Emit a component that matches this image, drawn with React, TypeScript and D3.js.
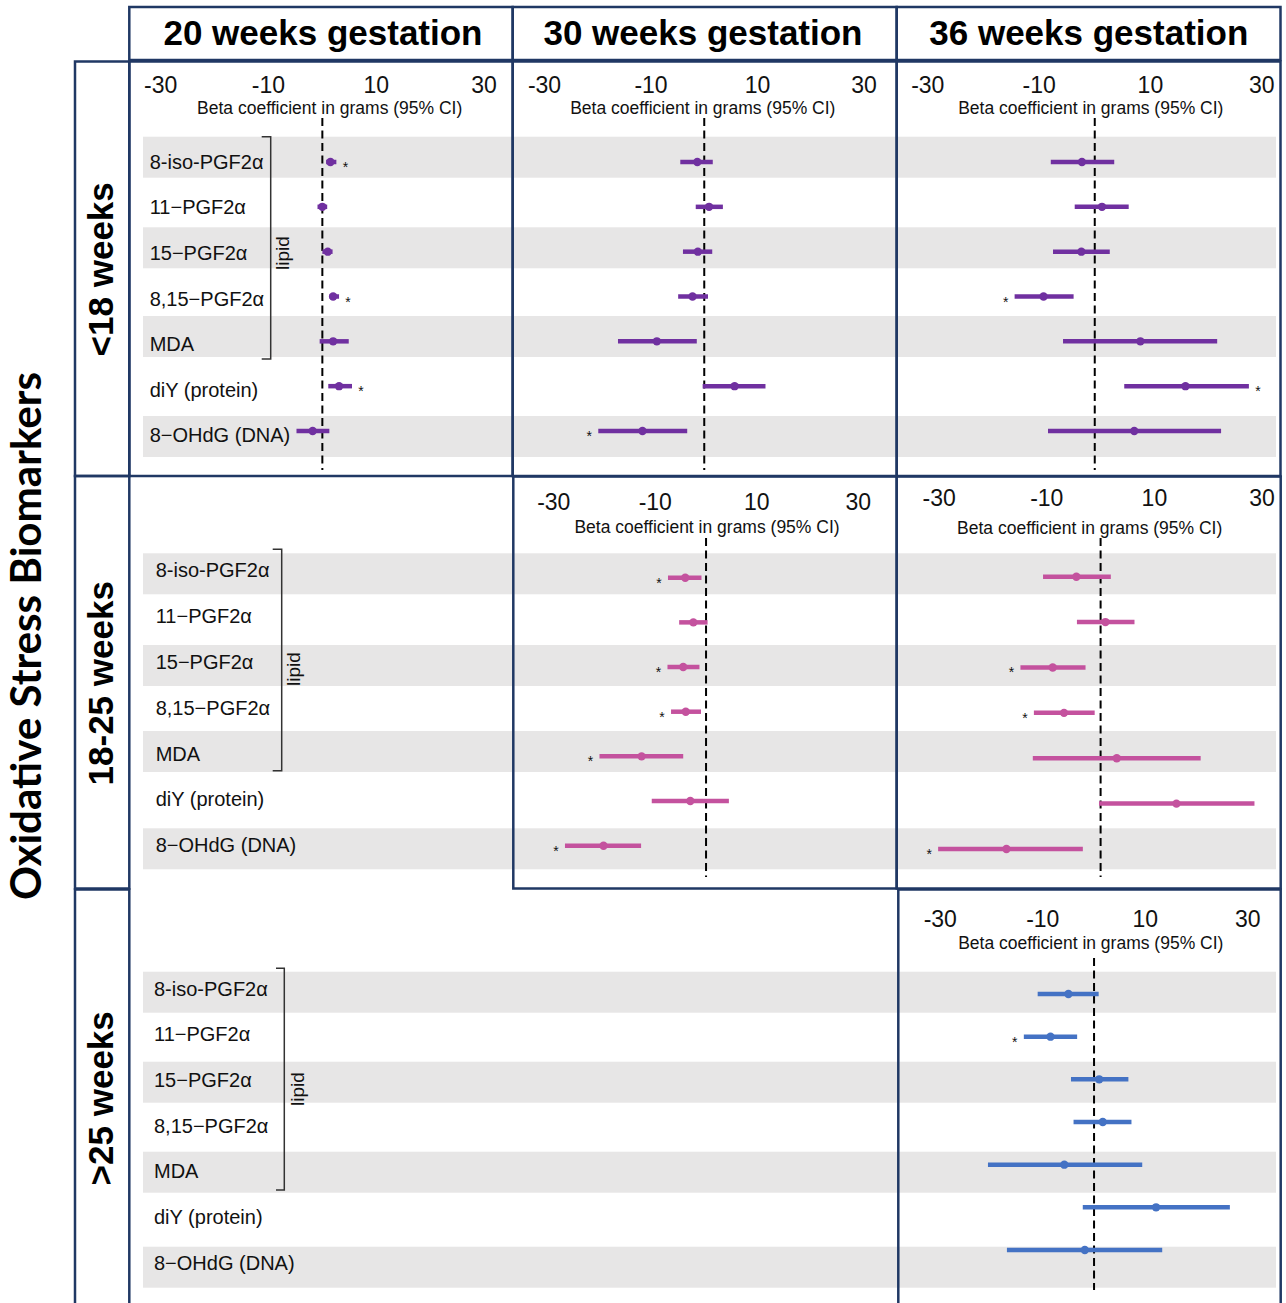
import React from "react";
import * as d3 from "d3";

// ---------- data ----------
const biomarkers = [
  "8-iso-PGF2α",
  "11−PGF2α",
  "15−PGF2α",
  "8,15−PGF2α",
  "MDA",
  "diY (protein)",
  "8−OHdG (DNA)",
];
const tickValues = [-30, -10, 10, 30];
const gestationLabels = ["20 weeks gestation", "30 weeks gestation", "36 weeks gestation"];
const windowLabels = ["<18 weeks", "18-25 weeks", ">25 weeks"];
const mainTitle = "Oxidative Stress Biomarkers";
const axisTitle = "Beta coefficient in grams (95% CI)";
const groupLabel = "lipid";

// <18 weeks exposure
const est_lt18_w20 = [1.5, 0.0, 1.0, 2.0, 2.0, 3.1, -1.8];
const lo_lt18_w20 = [0.7, -0.9, 0.0, 1.3, -0.5, 1.1, -4.8];
const hi_lt18_w20 = [2.6, 0.9, 1.9, 3.1, 4.9, 5.5, 1.3];
const sig_lt18_w20 = [1, 0, 0, 1, 0, 1, 0];

const est_lt18_w30 = [-1.3, 0.9, -1.2, -2.2, -8.9, 5.7, -11.6];
const lo_lt18_w30 = [-4.5, -1.6, -4.0, -4.9, -16.2, -0.3, -19.9];
const hi_lt18_w30 = [1.6, 3.5, 1.5, 0.7, -1.4, 11.5, -3.2];
const sig_lt18_w30 = [0, 0, 0, 0, 0, 0, 1];

const est_lt18_w36 = [-2.3, 1.3, -2.4, -9.2, 8.2, 16.3, 7.1];
const lo_lt18_w36 = [-7.9, -3.6, -7.5, -14.4, -5.7, 5.3, -8.4];
const hi_lt18_w36 = [3.5, 6.1, 2.7, -3.8, 22.0, 27.7, 22.7];
const sig_lt18_w36 = [0, 0, 0, 1, 0, 1, 0];

// 18-25 weeks exposure
const est_mid_w30 = [-4.1, -2.5, -4.5, -4.0, -12.7, -3.1, -20.2];
const lo_mid_w30 = [-7.5, -5.3, -7.6, -6.9, -21.0, -10.7, -27.8];
const hi_mid_w30 = [-0.9, 0.3, -1.3, -1.0, -4.5, 4.5, -12.8];
const sig_mid_w30 = [1, 0, 1, 1, 1, 0, 1];

const est_mid_w36 = [-4.5, 0.9, -8.9, -6.8, 3.0, 14.1, -17.5];
const lo_mid_w36 = [-10.7, -4.4, -14.9, -12.4, -12.6, -0.3, -30.2];
const hi_mid_w36 = [1.9, 6.3, -2.8, -1.1, 18.6, 28.6, -3.3];
const sig_mid_w36 = [0, 0, 1, 1, 0, 0, 1];

// >25 weeks exposure
const est_gt25_w36 = [-5.0, -8.5, 1.0, 1.7, -5.8, 12.1, -1.8];
const lo_gt25_w36 = [-11.0, -13.7, -4.5, -4.0, -20.7, -2.2, -17.0];
const hi_gt25_w36 = [0.9, -3.3, 6.7, 7.3, 9.4, 26.5, 13.3];
const sig_gt25_w36 = [0, 1, 0, 0, 0, 0, 0];

const PURPLE = "#7030a0";
const PINK = "#c4529e";
const BLUE = "#4472c4";
const NAVY = "#203864";
const BAND = "#e7e6e6";
const SANS = "'Liberation Sans', Arial, sans-serif";

// ---------- layout ----------
const panels = [
  { est: est_lt18_w20, lo: lo_lt18_w20, hi: hi_lt18_w20, sig: sig_lt18_w20, color: PURPLE,
    xr: [160.7, 484], yr: [162, 431], tickY: 93, titleY: 114, titleX: 329.7, dash: [118, 470] },
  { est: est_lt18_w30, lo: lo_lt18_w30, hi: hi_lt18_w30, sig: sig_lt18_w30, color: PURPLE,
    xr: [544.5, 864], yr: [162, 431], tickY: 93, titleY: 114, titleX: 702.8, dash: [118, 470] },
  { est: est_lt18_w36, lo: lo_lt18_w36, hi: hi_lt18_w36, sig: sig_lt18_w36, color: PURPLE,
    xr: [927.8, 1261.7], yr: [162, 431], tickY: 93, titleY: 114, titleX: 1090.8, dash: [118, 470] },
  { est: est_mid_w30, lo: lo_mid_w30, hi: hi_mid_w30, sig: sig_mid_w30, color: PINK,
    xr: [553.8, 858.3], yr: [577.7, 845.7], tickY: 510, titleY: 533, titleX: 707, dash: [538, 877] },
  { est: est_mid_w36, lo: lo_mid_w36, hi: hi_mid_w36, sig: sig_mid_w36, color: PINK,
    xr: [939.2, 1262], yr: [576.7, 849], tickY: 506, titleY: 533.5, titleX: 1089.7, dash: [538, 877] },
  { est: est_gt25_w36, lo: lo_gt25_w36, hi: hi_gt25_w36, sig: sig_gt25_w36, color: BLUE,
    xr: [940.3, 1247.8], yr: [994, 1250], tickY: 927, titleY: 949, titleX: 1090.8, dash: [958, 1290] },
];

const rowBlocks = [
  { labelX: 149.7, labelY: [161.7, 435], bandTops: [136.7, 227.3, 316, 416],
    bracket: [261.7, 270.7, 136.7, 359], lipid: [289, 253], window: [113, 269.3] },
  { labelX: 155.7, labelY: [570, 845], bandTops: [553.3, 645, 731, 828.3],
    bracket: [272.7, 281.7, 549.3, 770.7], lipid: [300, 669], window: [113, 683.3] },
  { labelX: 154, labelY: [988.3, 1262.7], bandTops: [971.7, 1061.7, 1151.7, 1246.7],
    bracket: [276, 284.3, 968.3, 1190], lipid: [304, 1089], window: [113, 1098.3] },
];

const headerBoxes = [
  [129.3, 7, 512.7, 60, 323],
  [512.7, 7, 896.7, 60, 703],
  [896.7, 7, 1280.5, 60, 1088.8],
];
const frameBoxes = [
  [75, 61.5, 129.3, 476],
  [75, 476, 129.3, 888.5],
  [75, 889.5, 129.3, 1310],
  [129.3, 61.5, 512.7, 476],
  [512.7, 61.5, 896.7, 476],
  [896.7, 61.5, 1280.5, 476],
  [513.3, 476.5, 896.7, 888.5],
  [896.7, 476.5, 1280.7, 888.5],
  [898.3, 889.5, 1280.7, 1310],
];

function Panel({ p }) {
  const x = d3.scaleLinear().domain([-30, 30]).range(p.xr);
  const y = d3.scalePoint().domain(biomarkers).range(p.yr);
  return (
    <g>
      {tickValues.map((t) => (
        <text key={t} x={x(t)} y={p.tickY} textAnchor="middle" fontFamily={SANS} fontSize={23} fill="#111">
          {t}
        </text>
      ))}
      <text x={p.titleX} y={p.titleY} textAnchor="middle" fontFamily={SANS} fontSize={17.5} fill="#111">
        {axisTitle}
      </text>
      <line x1={x(0)} x2={x(0)} y1={p.dash[0]} y2={p.dash[1]} stroke="#000" strokeWidth={2} strokeDasharray="8,4.5" />
      {biomarkers.map((b, i) => {
        const yy = y(b);
        const starX = p.est[i] < 0 ? x(p.lo[i]) - 9 : x(p.hi[i]) + 9;
        return (
          <g key={b}>
            <line x1={x(p.lo[i])} x2={x(p.hi[i])} y1={yy} y2={yy} stroke={p.color} strokeWidth={4.5} />
            <circle cx={x(p.est[i])} cy={yy} r={4.2} fill={p.color} />
            {p.sig[i] ? (
              <text x={starX} y={yy + 10} textAnchor="middle" fontFamily={SANS} fontSize={14} fill="#111">
                *
              </text>
            ) : null}
          </g>
        );
      })}
    </g>
  );
}

function RowBlock({ r, label }) {
  const y = d3.scalePoint().domain(biomarkers).range(r.labelY);
  const [bx0, bx1, bt, bb] = r.bracket;
  return (
    <g>
      {r.bandTops.map((t, i) => (
        <rect key={i} x={143} y={t} width={1276 - 143} height={41} fill={BAND} />
      ))}
      {biomarkers.map((b) => (
        <text key={b} x={r.labelX} y={y(b)} dy="0.36em" fontFamily={SANS} fontSize={20} fill="#111">
          {b}
        </text>
      ))}
      <path d={`M${bx0},${bt}H${bx1}V${bb}H${bx0}`} fill="none" stroke="#333" strokeWidth={1.5} />
      <text
        transform={`translate(${r.lipid[0]},${r.lipid[1]}) rotate(-90)`}
        textAnchor="middle"
        fontFamily={SANS}
        fontSize={19}
        fill="#111"
      >
        {groupLabel}
      </text>
      <text
        transform={`translate(${r.window[0]},${r.window[1]}) rotate(-90)`}
        textAnchor="middle"
        fontFamily={SANS}
        fontWeight="bold"
        fontSize={35}
        fill="#000"
      >
        {label}
      </text>
    </g>
  );
}

export default function App() {
  return (
    <svg
      width={1286}
      height={1303}
      style={{ position: "absolute", left: 0, top: 0, background: "#fff" }}
    >
      <rect x={0} y={0} width={1286} height={1303} fill="#fff" />
      {rowBlocks.map((r, i) => (
        <RowBlock key={i} r={r} label={windowLabels[i]} />
      ))}
      {panels.map((p, i) => (
        <Panel key={i} p={p} />
      ))}
      {headerBoxes.map((h, i) => (
        <g key={i}>
          <rect x={h[0]} y={h[1]} width={h[2] - h[0]} height={h[3] - h[1]} fill="none" stroke={NAVY} strokeWidth={2.5} />
          <text x={h[4]} y={45} textAnchor="middle" fontFamily={SANS} fontWeight="bold" fontSize={35} fill="#000">
            {gestationLabels[i]}
          </text>
        </g>
      ))}
      {frameBoxes.map((b, i) => (
        <rect key={i} x={b[0]} y={b[1]} width={b[2] - b[0]} height={b[3] - b[1]} fill="none" stroke={NAVY} strokeWidth={2.5} />
      ))}
      <text
        transform="translate(41,636) rotate(-90)"
        textAnchor="middle"
        fontFamily="Lato, 'Open Sans', sans-serif"
        fontWeight="bold"
        fontSize={42}
        textLength={528}
        lengthAdjust="spacingAndGlyphs"
        fill="#000"
      >
        {mainTitle}
      </text>
    </svg>
  );
}
